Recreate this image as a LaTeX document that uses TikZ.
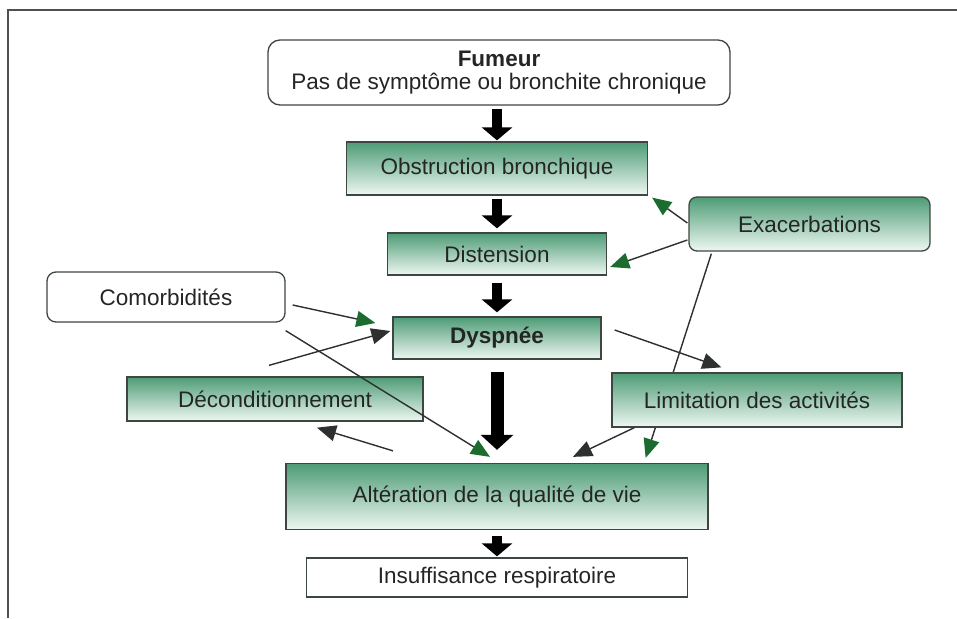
\documentclass[tikz,border=0pt]{standalone}
\usepackage{fontspec}
\setmainfont{Liberation Sans}
\usetikzlibrary{arrows.meta}
\pgfdeclarelayer{background}
\pgfsetlayers{background,main}
\definecolor{gtop}{RGB}{78,156,118}
\definecolor{gbot}{RGB}{238,247,242}
\definecolor{boxborder}{RGB}{62,70,66}
\definecolor{txt}{RGB}{36,38,37}
\definecolor{linegray}{RGB}{45,48,46}
\definecolor{arrgreen}{RGB}{28,108,48}
\definecolor{framegray}{RGB}{80,80,80}
\newcommand\diagfont{\fontsize{22.5}{23}\selectfont}
\begin{document}
\begin{tikzpicture}[x=1pt,y=-1pt,
  gbox/.style={draw=boxborder, line width=1.3pt, top color=gtop, bottom color=gbot,
    text=txt, inner sep=0pt, font=\diagfont},
  wbox/.style={draw=boxborder, line width=1.3pt, fill=white, text=txt, inner sep=0pt, font=\diagfont},
  blk/.style={line width=10pt, black, -{Triangle[length=13pt,width=30pt]}},
  tarr/.style={line width=1.4pt, draw=linegray, -{Triangle[length=19pt,width=16pt]}},
  garr/.style={line width=1.4pt, draw=linegray, -{Triangle[length=19pt,width=16pt,color=arrgreen,fill=arrgreen]}}]
\useasboundingbox (0,0) rectangle (957,618);
\begin{pgfonlayer}{background}
\fill[white] (0,0) rectangle (957,618);
\end{pgfonlayer}
\draw[line width=2.2pt, framegray] (957,10) -- (8,10) -- (8,618);

% nodes
\node[wbox, rounded corners=12pt, minimum width=462pt, minimum height=65pt, align=center]
  (fum) at (499,72.5) {\textbf{Fumeur}\\Pas de symptôme ou bronchite chronique};
\node[gbox, minimum width=301pt, minimum height=53pt] (obs) at (497,168.5) {Obstruction bronchique};
\node[gbox, minimum width=219pt, minimum height=42pt] (dis) at (497,254) {Distension};
\node[gbox, rounded corners=8pt, minimum width=241pt, minimum height=54pt] (exa) at (809.5,224) {Exacerbations};
\node[wbox, rounded corners=9pt, minimum width=238pt, minimum height=50pt] (com) at (166,297) {Comorbidités};
\node[gbox, minimum width=208pt, minimum height=42pt] (dys) at (497,338) {\textbf{Dyspnée}};
\node[gbox, minimum width=296pt, minimum height=44pt] (dec) at (275,399) {Déconditionnement};
\node[gbox, minimum width=290pt, minimum height=54pt] (lim) at (757,400) {Limitation des activités};
\node[gbox, minimum width=422pt, minimum height=66pt] (alt) at (497,496.5) {Altération de la qualité de vie};
\node[wbox, minimum width=381pt, minimum height=39pt] (ins) at (497,577.5) {Insuffisance respiratoire};

% block arrows
\draw[blk, shorten <=3pt, shorten >=1pt] (fum.south -| obs.north) -- (obs.north);
\draw[blk, shorten <=3pt, shorten >=4pt] (obs.south) -- (dis.north);
\draw[blk, shorten <=7pt, shorten >=4pt] (dis.south) -- (dys.north);
\draw[blk, line width=13pt, -{Triangle[length=15pt,width=32pt]}, shorten <=12pt, shorten >=13pt] (dys.south) -- (alt.north);
\draw[blk, shorten <=6pt, shorten >=1pt] (alt.south) -- (ins.north);

% thin connectors
\begin{pgfonlayer}{background}
\draw[garr] ([shift={(23,2)}]exa.south west) -- ([shift={(-63,-5)}]alt.north east);
\end{pgfonlayer}
\draw[garr] ([shift={(7,8)}]com.east) -- ([shift={(-17,-15)}]dys.west);
\draw[garr] ([shift={(0,8)}]com.south east) -- ([shift={(-7,-6)}]alt.north);
\draw[tarr] ([shift={(-6,-11)}]dec.north) -- ([shift={(-2,-7)}]dys.west);
\draw[tarr] ([shift={(-104,-12)}]alt.north) -- ([shift={(42,6)}]dec.south);
\draw[garr] ([shift={(-1,-1)}]exa.west) -- ([shift={(4,2)}]obs.south east);
\draw[garr] ([shift={(-1,16)}]exa.west) -- ([shift={(3,13)}]dis.east);
\draw[tarr] ([shift={(13,-8)}]dys.east) -- ([shift={(110,-5)}]lim.north west);
\draw[tarr] ([shift={(23,0)}]lim.south west) -- ([shift={(76,-6)}]alt.north);
\end{tikzpicture}
\end{document}
